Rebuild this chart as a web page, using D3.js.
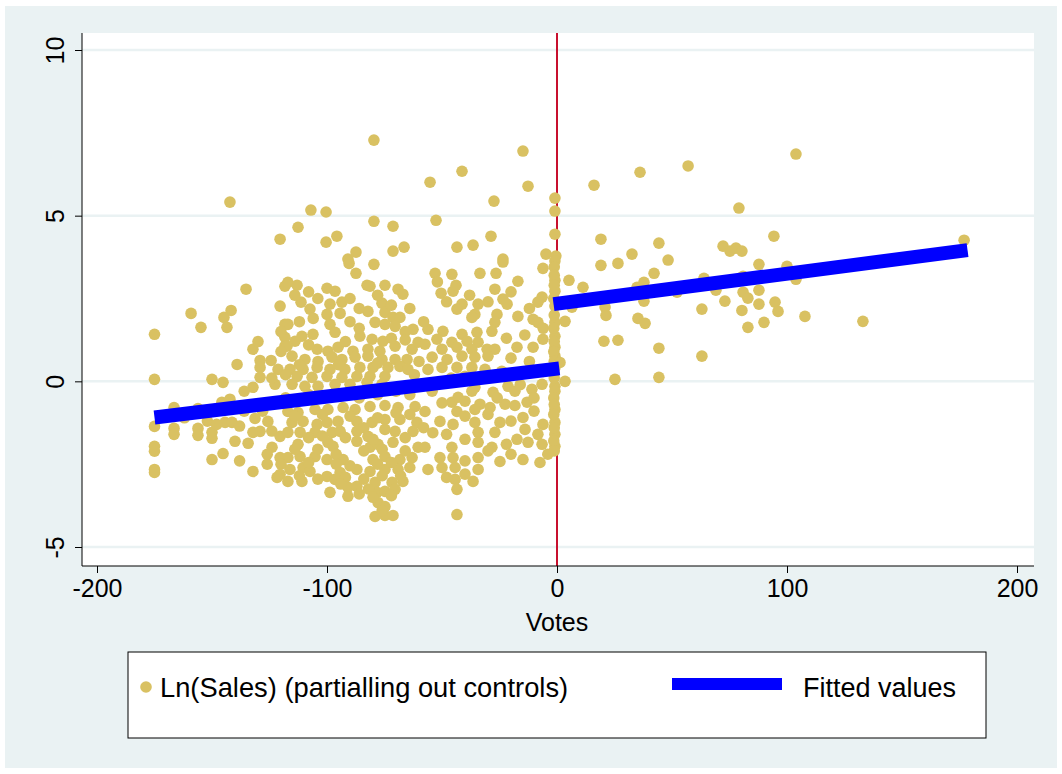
<!DOCTYPE html>
<html>
<head>
<meta charset="utf-8">
<script src="https://cdn.jsdelivr.net/npm/d3@7"></script>
<style>
  body { margin: 0; background: #ffffff; }
  svg text { font-family: "Liberation Sans", Arial, sans-serif; fill: #000; }
</style>
</head>
<body>
<div id="chart"></div>
<script>
// ---- data ----
var xTicks = [-200, -100, 0, 100, 200];
var yTicks = [-5, 0, 5, 10];

// left of cutoff (votes < 0)
var leftPoints = [
  [-175,1.42],[-175,0.06],[-175,-1.36],[-175,-1.96],[-175,-2.11],[-175,-2.66],[-175,-2.75],
  [-135.2,2.78],[-118.3,2.87],[-120.4,2.27],[-159.1,2.05],[-141.7,2.14],[-144.8,1.93],[-143.5,1.63],
  [-154.8,1.63],[-118.3,1.72],[-118.3,1.33],[-118.3,1.06],[-132.2,0.97],[-139.1,0.51],[-129.1,0.63],
  [-124.3,0.63],[-129.1,0.42],[-121.3,0.36],[-129.1,0.12],[-150,0.06],[-145.2,-0.03],[-132.2,-0.18],
  [-122.6,-0.09],
  [-166.5,-0.79],[-156.1,-0.82],[-145.7,-0.63],[-142.2,-0.54],[-143.5,-0.85],[-166.5,-1.42],[-166.5,-1.6],
  [-156.1,-1.42],[-156.1,-1.63],[-150,-1.54],[-150,-1.72],[-144.3,-1.24],[-141.3,-1.24],[-140,-1.81],
  [-134.3,-1.87],[-150,-2.36],[-145.2,-2.18],[-132.2,-2.72],[-132.2,-1.54],[-129.1,-1.51],[-131.3,-1.12],
  [-125.7,-1.21],[-123.9,-1.99],[-120.4,-1.66],[-120.4,-2.3],[-120.4,-2.81],[-121.7,-2.9],
  [-142.2,5.41],[-120.4,4.29],
  [-79.6,7.28],[-107,5.17],[-100.4,5.11],[-112.6,4.65],[-79.6,4.83],[-71.3,4.68],[-95.7,4.38],
  [-100.4,4.2],[-87.4,3.9],[-71.3,3.93],[-66.5,4.05],[-90.9,3.69],
  [-14.8,6.95],[-41.3,6.34],[-55.2,6.01],[-12.6,5.89],[-27.4,5.44],[-0.9,5.53],[-0.9,5.14],[-52.6,4.86],
  [-0.9,4.44],[-28.7,4.38],[-43.5,4.05],[-36.5,4.11],[-4.8,3.84],[-23.5,3.69],[-0.5,3.78],
  [-90.4,3.56],[-79.6,3.53],[-87.4,3.26],[-117,2.99],[-113,2.9],[-100,2.81],[-96.5,2.72],[-82.6,2.9],
  [-81.3,2.87],[-74.8,2.9],[-69.1,2.78],[-67,2.63],[-111.3,2.39],[-107.4,2.18],[-98.7,2.33],[-93.5,2.39],
  [-76.1,2.36],[-82.2,2.11],[-117,1.72],[-100,2.02],[-94.3,2.05],[-98.7,1.72],[-74.8,2.08],[-71.3,1.93],
  [-68.3,1.93],[-79.1,1.78],[-74.8,1.72],[-70.4,1.66],[-96.5,1.48],[-110.9,1.36],[-106.1,1.42],
  [-113.9,1.21],[-85.7,1.36],[-80.4,1.27],[-75.7,1.21],[-62.6,1.57],[-117.4,1.06],[-104.3,0.97],
  [-99.6,0.91],[-95.2,1.03],[-88.7,0.91],[-82.2,0.97],[-77,0.91],[-70.4,1.06],[-63,0.97],[-60.4,1.18],
  [-115.2,0.76],[-109.6,0.66],[-103.9,0.6],[-97.8,0.73],[-93.5,0.66],[-87.8,0.73],[-82.2,0.76],
  [-76.1,0.66],[-70.4,0.66],[-65.2,0.66],[-116.1,0.36],[-110.4,0.36],[-104.3,0.42],[-98.7,0.36],
  [-92.2,0.36],[-85.7,0.42],[-80,0.42],[-73.5,0.42],[-68.3,0.45],[-113,0.15],[-106.5,0.12],[-100,0.15],
  [-93.5,0.12],[-87,0.15],[-81.3,0.15],[-74.8,0.15],[-64.8,0.36],[-115.2,-0.09],[-109.6,-0.15],
  [-103.9,-0.15],[-96.5,-0.09],[-90,-0.09],[-82.6,-0.03],[-76.1,-0.09],
  [-23.5,3.6],[-6.1,3.41],[-0.9,3.63],[-53,3.26],[-45.7,3.23],[-33.5,3.26],[-26.5,3.26],[-17,3.02],
  [-0.9,3.05],[-50.4,2.66],[-45.2,2.72],[-43.9,2.9],[-27,2.78],[-23.5,2.48],[-21.7,2.33],[-6.5,2.54],
  [-8.3,2.39],[-0.9,2.72],[-0.9,2.27],[-41.3,2.33],[-43.5,2.18],[-34.3,2.33],[-35.7,2.02],[-37,1.93],
  [-26.1,2.02],[-27,1.78],[-17,1.96],[-10.4,1.87],[-8.3,1.78],[-0.9,1.78],[-56.1,1.57],[-49.6,1.51],
  [-41.3,1.42],[-34.8,1.48],[-28.3,1.51],[-52.2,1.27],[-45.7,1.18],[-39.1,1.21],[-34.3,1.18],[-6.1,1.27],
  [-0.9,1.36],[-57.4,1.12],[-50,0.97],[-43.5,1.03],[-37,0.97],[-30.4,0.97],[-27,0.97],[-17.4,1.03],
  [-10.4,1.03],[-0.9,1.03],[-54.3,0.73],[-47.8,0.66],[-41.3,0.76],[-35.7,0.73],[-30,0.76],[-0.9,0.76],
  [-56.1,0.36],[-50,0.42],[-43.5,0.42],[-37,0.42],[-31.3,0.36],[-0.9,0.42],[-35.7,-0.18],[-21.3,-0.15],
  [-0.9,-0.15],[-6.5,-0.09],
  [-117,-0.91],[-112.6,-0.94],[-105.2,-0.85],[-99.6,-0.85],[-93,-0.79],[-87.8,-0.85],[-81.3,-0.76],
  [-74.8,-0.73],[-69.1,-0.79],[-61.7,-0.76],[-115.2,-1.24],[-110.4,-1.21],[-104.3,-1.3],[-100,-1.24],
  [-95.2,-1.21],[-87,-1.21],[-80.4,-1.24],[-74.8,-1.15],[-68.3,-1.15],[-60.9,-1.24],[-117,-1.54],
  [-111.7,-1.54],[-105.2,-1.54],[-97.8,-1.54],[-94.3,-1.51],[-87,-1.51],[-82.2,-1.66],[-74.8,-1.45],
  [-70.4,-1.51],[-62.6,-1.51],[-112.6,-1.9],[-99.6,-1.84],[-97.4,-1.96],[-87,-1.81],[-81.3,-1.99],
  [-77.8,-1.9],[-71.3,-1.84],[-60.4,-1.99],[-117,-2.3],[-111.7,-2.27],[-105.2,-2.27],[-100,-2.36],
  [-93,-2.36],[-80,-2.36],[-74.8,-2.27],[-68.3,-2.36],[-63,-2.3],[-116.1,-2.66],[-110.4,-2.6],
  [-107.4,-2.72],[-100,-2.87],[-94.3,-2.75],[-87,-2.66],[-81.3,-2.72],[-74.8,-2.66],[-69.1,-2.66],
  [-117,-3.02],[-110.9,-3.02],[-96.5,-2.96],[-79.1,-3.05],[-71.7,-3.05],[-67,-3.02],[-90.9,-3.2],
  [-87,-3.17],[-98.7,-3.35],[-90.9,-3.47],[-78.3,-3.35],[-74.8,-3.32],[-70.4,-3.26],[-77.8,-3.66],
  [-74.8,-3.78],[-79.1,-4.08],[-74.8,-4.05],[-71.3,-4.05],
  [-54.3,-0.3],[-37,-0.3],[-27.8,-0.33],[-18.3,-0.3],[-10.9,-0.24],[-0.9,-0.3],[-45.7,-0.63],[-43,-0.48],
  [-33.5,-0.69],[-22.6,-0.69],[-18.3,-0.73],[-13,-0.63],[-0.9,-0.85],[-57.4,-0.91],[-43.5,-0.91],
  [-35.7,-0.85],[-29.1,-0.79],[-50.9,-1.21],[-45.2,-1.3],[-35.7,-1.24],[-24.8,-1.24],[-14.8,-1.09],
  [-6.1,-1.3],[-0.9,-1.24],[-34.3,-1.54],[-27,-1.54],[-13.9,-1.45],[-8.3,-1.6],[-0.9,-1.6],[-57.4,-1.99],
  [-45.7,-1.99],[-34.3,-1.84],[-28.3,-1.99],[-17.4,-1.75],[-12.6,-1.84],[-6.5,-1.9],[-0.9,-1.96],
  [-50.9,-2.3],[-45.2,-2.3],[-34.3,-2.3],[-24.8,-2.42],[-14.8,-2.36],[-7.4,-2.45],[-56.1,-2.66],
  [-44.3,-2.6],[-34.3,-2.66],[-44.3,-2.96],[-36.5,-3.02],[-43.5,-3.26],[-43.5,-4.02],
  [-1.2,3.45],[-1.2,3.2],[-1.2,2.9],[-1.4,2.5],[-1.2,2.0],[-1.4,1.6],[-1.2,1.2],[-1.4,0.9],
  [-1.2,0.6],[-1.4,0.25],[-1.2,0.1],[-1.4,-0.5],[-1.2,-0.7],[-1.4,-1.0],[-1.2,-1.4],[-1.4,-1.8],[-1.2,-2.1],
  // the packed core of the cloud
  [-114,2.6],[-108,2.7],[-104,2.5],[-90,2.5],[-86,2.2],[-78,2.6],[-72,2.3],[-64,2.2],[-112,1.8],
  [-106,1.9],[-90,1.8],[-86,1.6],[-66,1.5],[-120,1.5],[-108,1.1],[-92,1.2],[-72,1.3],[-66,1.25],
  [-58,1.8],[-120,0.9],[-112,0.5],[-95,0.5],[-78,0.55],[-60,0.6],[-62,0.2],[-118,0.2],[-108,-0.4],
  [-98,-0.45],[-86,-0.5],[-78,-0.4],[-70,-0.3],[-64,-0.4],[-118,-0.5],
  [-114,-1.05],[-102,-1.0],[-90,-1.05],[-84,-1.4],[-78,-1.1],[-70,-0.95],[-64,-1.0],[-108,-1.7],
  [-102,-1.65],[-92,-1.7],[-80,-1.75],[-66,-1.7],[-58,-1.4],[-114,-2.05],[-104,-2.05],[-96,-2.2],
  [-84,-2.1],[-76,-2.05],[-66,-2.1],[-120,-2.5],[-108,-2.45],[-96,-2.5],[-90,-2.55],[-78,-2.5],
  [-72,-2.45],[-64,-2.6],[-112,-2.85],[-104,-2.95],[-92,-2.9],[-84,-2.95],[-76,-2.85],[-68,-2.85],
  [-94,-3.1],[-82,-3.25],[-72,-3.45],[-80,-3.5],[-76,-3.9],[-86,-3.4],
  [-52,3.0],[-48,2.4],[-38,2.6],[-30,2.4],[-20,2.7],[-12,2.2],[-6,1.6],[-14,1.4],[-22,1.3],[-20,0.7],
  [-12,0.6],[-6,0.3],[-24,0.3],[-46,0.1],[-40,0.15],[-30,0.1],[-52,-0.05],[-16,-0.1],[-10,-0.5],
  [-26,-0.5],[-40,-0.6],[-50,-0.65],[-54,-1.55],[-48,-1.6],[-40,-1.05],[-30,-1.0],[-20,-1.2],
  [-10,-0.9],[-40,-1.75],[-22,-1.9],[-50,-2.6],[-40,-2.4],[-30,-2.1],[-20,-2.2],[-4,-2.2],[-40,-2.8],
  [-48,-2.9],
  [-162,-1.1],[-160,-0.95],[-152,-1.2],[-148,-1.3],[-138,-1.35],[-136,-0.9],[-128,-0.9],[-124,-1.5],
  [-138,-2.4],[-126,-2.5],[-126,-2.2],[-136,-0.3],[-124,0.1],[-130,1.2]
];

// right of cutoff (votes > 0)
var rightPoints = [
  [16.1,5.92],[36.1,6.31],[57,6.5],[79.1,5.23],[19.1,4.29],[44.3,4.17],[32.6,3.84],[48.3,3.66],
  [72.2,4.08],[75.2,3.93],[77.8,4.02],[80.4,3.93],[94.3,4.38],[87.8,3.53],[19.1,3.5],[26.5,3.56],
  [5.2,3.05],[11.3,2.84],[42.2,3.26],[37.8,2.99],[34.8,2.84],[63.9,3.11],[52.2,2.69],[69.1,2.75],
  [80.9,3.17],[80.9,2.69],[83,2.51],[87.8,2.75],[73,2.42],[94.8,2.39],[96.1,2.11],[87.8,2.33],
  [80.4,2.14],[63,2.18],[37.8,2.42],[20.9,2.24],[6.5,2.24],[21.3,1.99],[35.2,1.9],[38.3,1.75],
  [3.5,1.81],[83,1.63],[90,1.78],[20.4,1.21],[26.5,1.24],[44.3,1.0],[63,0.76],[25.2,0.06],
  [44.3,0.12],[3.5,0.0],[1.3,0.57],
  [103.9,6.86],[177,4.26],[100,3.47],[103.9,3.08],[107.8,1.96],[133,1.81]
];

// fitted values, one straight line each side
var fitLeft = [[-175, -1.09], [1, 0.39]];
var fitRight = [[-1.5, 2.33], [178.5, 3.96]];

// ---- layout ----
var W = 1062, H = 774;
var svg = d3.select("#chart").append("svg")
    .attr("width", W)
    .attr("height", H);

// outer graph region
svg.append("rect")
    .attr("x", 5).attr("y", 6)
    .attr("width", W - 10).attr("height", H - 12)
    .attr("fill", "#eaf2f3");

var plot = {left: 82, right: 1034, top: 33, bottom: 566};

svg.append("rect")
    .attr("x", plot.left).attr("y", plot.top)
    .attr("width", plot.right - plot.left)
    .attr("height", plot.bottom - plot.top)
    .attr("fill", "#ffffff");

var xScale = d3.scaleLinear().domain([-200, 200]).range([97, 1017]);
var yScale = d3.scaleLinear().domain([-5, 10]).range([547, 50]);

// grid lines
svg.append("g").selectAll("line")
    .data(yTicks)
    .enter().append("line")
    .attr("x1", plot.left).attr("x2", plot.right)
    .attr("y1", function(d){ return yScale(d); })
    .attr("y2", function(d){ return yScale(d); })
    .attr("stroke", "#eaf2f3")
    .attr("stroke-width", 2.5);

// cutoff line at zero votes
svg.append("line")
    .attr("x1", xScale(0)).attr("x2", xScale(0))
    .attr("y1", plot.top).attr("y2", plot.bottom)
    .attr("stroke", "#c8102e")
    .attr("stroke-width", 2);

// scatter
var allPoints = leftPoints.concat(rightPoints);
svg.append("g").selectAll("circle")
    .data(allPoints)
    .enter().append("circle")
    .attr("cx", function(d){ return xScale(d[0]); })
    .attr("cy", function(d){ return yScale(d[1]); })
    .attr("r", 5.8)
    .attr("fill", "#d9c162");

// fitted lines
var line = d3.line()
    .x(function(d){ return xScale(d[0]); })
    .y(function(d){ return yScale(d[1]); });

[fitLeft, fitRight].forEach(function(seg){
    svg.append("path")
        .attr("d", line(seg))
        .attr("fill", "none")
        .attr("stroke", "#0000ff")
        .attr("stroke-width", 14);
});

// axes
var xAxis = d3.axisBottom(xScale).tickValues(xTicks).tickSize(7).tickPadding(6)
    .tickFormat(d3.format("d"));
var gx = svg.append("g")
    .attr("transform", "translate(0," + plot.bottom + ")")
    .call(xAxis);
gx.select(".domain").attr("d", "M" + plot.left + ",0H" + plot.right).attr("stroke", "#000");
gx.selectAll("line").attr("stroke", "#000");
gx.selectAll("text")
    .attr("font-size", 25)
    .attr("font-family", "Liberation Sans, Arial, sans-serif")
    .attr("fill", "#000")
    .text(function(d){ return d < 0 ? "-" + Math.abs(d) : d; });

var yAxis = d3.axisLeft(yScale).tickValues(yTicks).tickSize(7).tickPadding(0)
    .tickFormat(function(d){ return d < 0 ? "-" + Math.abs(d) : d; });
var gy = svg.append("g")
    .attr("transform", "translate(" + plot.left + ",0)")
    .call(yAxis);
gy.select(".domain").attr("d", "M0," + plot.top + "V" + plot.bottom).attr("stroke", "#000");
gy.selectAll("line").attr("stroke", "#000");
gy.selectAll("text")
    .attr("font-size", 25)
    .attr("font-family", "Liberation Sans, Arial, sans-serif")
    .attr("fill", "#000")
    .attr("x", 0).attr("dy", 0)
    .attr("text-anchor", "middle")
    .attr("transform", "translate(-18,0) rotate(-90)");

// axis title
svg.append("text")
    .attr("x", xScale(0)).attr("y", 631)
    .attr("text-anchor", "middle")
    .attr("font-size", 25)
    .text("Votes");

// legend
var lg = svg.append("g");
lg.append("rect")
    .attr("x", 128).attr("y", 652)
    .attr("width", 858).attr("height", 86)
    .attr("fill", "#ffffff")
    .attr("stroke", "#000")
    .attr("stroke-width", 1);
lg.append("circle")
    .attr("cx", 146).attr("cy", 687).attr("r", 5.8)
    .attr("fill", "#d9c162");
lg.append("text")
    .attr("x", 160).attr("y", 697)
    .attr("font-size", 27.3)
    .text("Ln(Sales) (partialling out controls)");
lg.append("line")
    .attr("x1", 672).attr("x2", 782)
    .attr("y1", 684).attr("y2", 684)
    .attr("stroke", "#0000ff")
    .attr("stroke-width", 12);
lg.append("text")
    .attr("x", 803).attr("y", 697)
    .attr("font-size", 27)
    .text("Fitted values");
</script>
</body>
</html>
